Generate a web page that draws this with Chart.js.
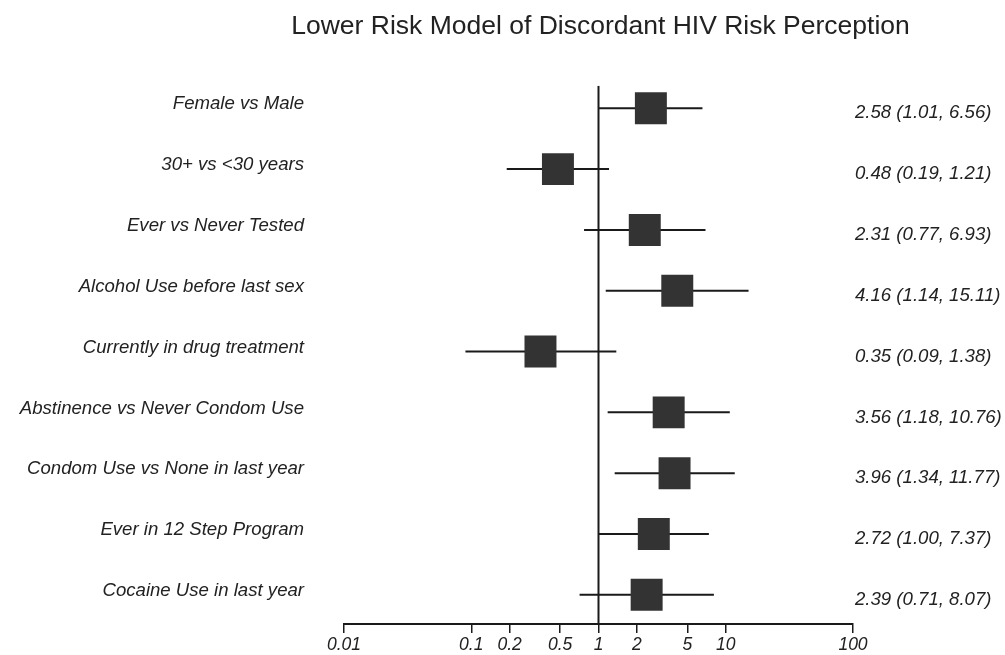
<!DOCTYPE html>
<html>
<head>
<meta charset="utf-8">
<script src="https://cdn.jsdelivr.net/npm/chart.js@4"></script>
<style>
  html, body { margin: 0; padding: 0; background: #fff; }
  #wrap { width: 1005px; height: 655px; }
</style>
</head>
<body>
<div id="wrap"><canvas id="myChart" width="1005" height="655"></canvas></div>
<script>
const predictors = [
  "Female vs Male",
  "30+ vs <30 years",
  "Ever vs Never Tested",
  "Alcohol Use before last sex",
  "Currently in drug treatment",
  "Abstinence vs Never Condom Use",
  "Condom Use vs None in last year",
  "Ever in 12 Step Program",
  "Cocaine Use in last year",
];
const oddsRatio = [2.58, 0.48, 2.31, 4.16, 0.35, 3.56, 3.96, 2.72, 2.39];
const ciLow = [1.01, 0.19, 0.77, 1.14, 0.09, 1.18, 1.34, 1.0, 0.71];
const ciHigh = [6.56, 1.21, 6.93, 15.11, 1.38, 10.76, 11.77, 7.37, 8.07];
const xTicks = [0.01, 0.1, 0.2, 0.5, 1, 2, 5, 10, 100];

const ciText = oddsRatio.map(
  (or, i) => `${or.toFixed(2)} (${ciLow[i].toFixed(2)}, ${ciHigh[i].toFixed(2)})`
);

const yMin = -0.37;
const yMax = 8.48;
const ink = "#222";
const fam = "Arial, 'Liberation Sans', sans-serif";
const labelFont = { family: fam, size: 18.6, style: "italic" };

const rowTicks = (scale) => {
  scale.ticks = predictors.map((p, i) => ({ value: i }));
};

const ciLines = ciLow.map((lo, i) => ({
  type: "line",
  data: [
    { x: lo, y: i },
    { x: ciHigh[i], y: i },
  ],
  borderColor: "#1a1a1a",
  borderWidth: 2,
  pointRadius: 0,
  yAxisID: "y",
}));

let ctx = document.getElementById("myChart").getContext("2d");

// negative right padding widens the full-size title box so the title centres near x=600
window.myChart = new Chart(ctx, {
  type: "scatter",
  data: {
    datasets: [
      {
        label: "OR",
        data: oddsRatio.map((or, i) => ({ x: or, y: i })),
        pointStyle: "rect",
        pointRadius: 22.6,
        pointHoverRadius: 22.6,
        backgroundColor: "#333",
        borderWidth: 0,
        yAxisID: "y",
      },
      {
        type: "line",
        label: "ref",
        data: [
          { x: 1, y: yMin },
          { x: 1, y: yMax },
        ],
        borderColor: "#1a1a1a",
        borderWidth: 2,
        pointRadius: 0,
        yAxisID: "y",
      },
      ...ciLines,
    ],
  },
  options: {
    responsive: false,
    animation: false,
    layout: { padding: { left: 0, right: -196, top: 0, bottom: 0 } },
    scales: {
      x: {
        type: "logarithmic",
        min: 0.01,
        max: 100,
        afterBuildTicks: (scale) => {
          scale.ticks = xTicks.map((v) => ({ value: v }));
        },
        afterFit: (scale) => {
          scale.height = 31;
        },
        grid: {
          drawOnChartArea: false,
          drawTicks: true,
          tickLength: 9,
          color: "#1a1a1a",
          lineWidth: 1.5,
        },
        border: { display: true, color: "#1a1a1a", width: 2 },
        ticks: {
          autoSkip: false,
          maxRotation: 0,
          padding: 2,
          color: ink,
          font: { family: fam, size: 17.5, style: "italic" },
          callback: (v) => String(v),
        },
      },
      y: {
        type: "linear",
        position: "left",
        reverse: true,
        min: yMin,
        max: yMax,
        afterBuildTicks: rowTicks,
        afterFit: (scale) => {
          scale.width = 344;
        },
        grid: { display: false, drawTicks: true, tickLength: 37 },
        border: { display: false },
        ticks: {
          autoSkip: false,
          padding: 3,
          labelOffset: -4,
          color: ink,
          font: labelFont,
          callback: (v) => predictors[v],
        },
      },
      yr: {
        type: "linear",
        position: "right",
        reverse: true,
        min: yMin,
        max: yMax,
        afterBuildTicks: rowTicks,
        afterFit: (scale) => {
          scale.width = 348;
        },
        grid: { display: false, drawTicks: false },
        border: { display: false },
        ticks: {
          autoSkip: false,
          padding: 2,
          labelOffset: 5,
          color: ink,
          font: labelFont,
          callback: (v) => ciText[v],
        },
      },
    },
    plugins: {
      legend: { display: false },
      tooltip: { enabled: false },
      title: {
        display: true,
        text: "Lower Risk Model of Discordant HIV Risk Perception",
        color: ink,
        font: { family: fam, size: 26.5, weight: 400, style: "normal" },
        padding: { top: 11, bottom: 43 },
      },
    },
  },
});
</script>
</body>
</html>
